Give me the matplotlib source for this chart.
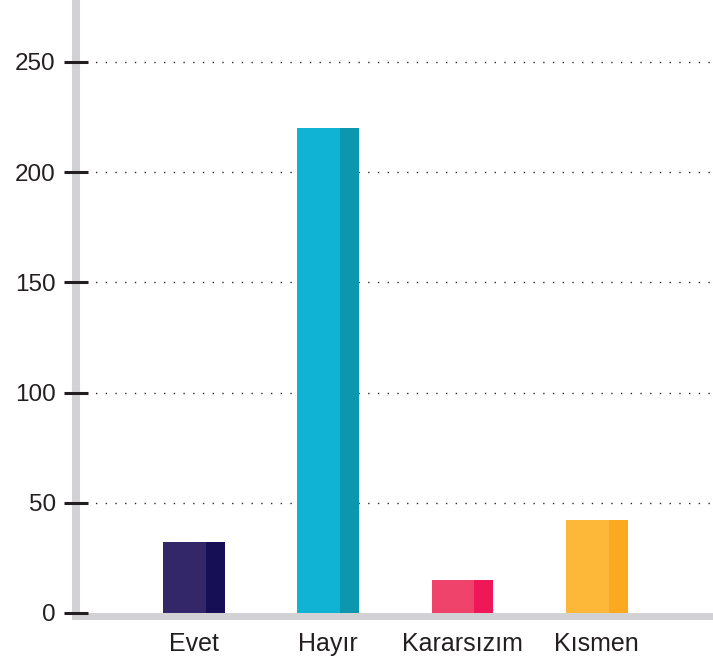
import matplotlib
matplotlib.use('Agg')
import matplotlib.pyplot as plt

categories = ['Evet', 'Hayır', 'Kararsızım', 'Kısmen']
counts = [32, 220, 15, 42]
light_colors = ['#33276A', '#10B3D3', '#F0436C', '#FDB83A']
dark_colors = ['#170F55', '#0C97AF', '#EF1757', '#FBA91F']
yticks = [0, 50, 100, 150, 200, 250]

plt.rcParams['font.family'] = ['Liberation Sans', 'DejaVu Sans']

fig = plt.figure(figsize=(7.13, 6.68), dpi=100)
ax = fig.add_axes([0.1066, 0.0771, 0.8934, 0.9229])

width = 0.46
shade = 0.69  # fraction of bar width in the lighter tone
x = list(range(len(categories)))
ax.bar(x, counts, width=width, color=light_colors, zorder=2)
dark_left = [i - width / 2 + width * shade for i in x]
ax.bar(dark_left, counts, width=width * (1 - shade), align='edge',
       color=dark_colors, zorder=2)

ax.set_xlim(-0.879, 3.865)
ax.set_ylim(-1.59, 278.1)
ax.set_xticks(x)
ax.set_xticklabels(categories, fontsize=18, color='#231F20')
ax.set_yticks(yticks)
ax.set_yticklabels([str(v) for v in yticks], fontsize=17.5, color='#231F20')

ax.tick_params(axis='x', length=0, pad=11)
ax.tick_params(axis='y', direction='inout', length=17, width=2.2,
               color='#231F20', pad=6)

ax.yaxis.grid(True, color='#2A2A2A', linewidth=1.0, linestyle=(0, (1, 6)))
ax.yaxis.get_major_ticks()[0].gridline.set_visible(False)

# spines below the axis (ticks on top of the grey bars), grid below the bars
for side in ['top', 'right']:
    ax.spines[side].set_visible(False)
ax.spines['left'].set_color('#D2D2D4')
ax.spines['left'].set_linewidth(5.8)
ax.spines['bottom'].set_color('#D2D2D4')
ax.spines['bottom'].set_linewidth(5.0)
ax.spines['left'].set_zorder(1)
ax.spines['bottom'].set_zorder(1)
ax.xaxis.set_zorder(1.5)
ax.yaxis.set_zorder(1.5)

plt.savefig('out.png', dpi=100)
